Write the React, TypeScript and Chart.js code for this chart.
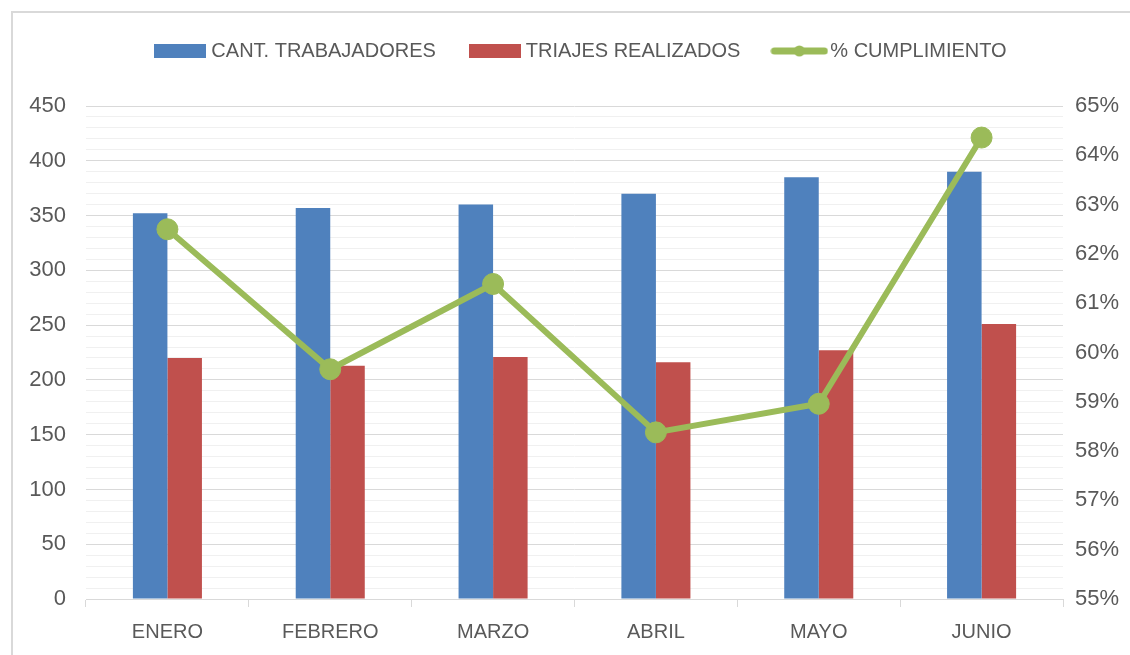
import React, { useEffect, useRef } from 'react';
import { Chart, registerables } from 'chart.js';

Chart.register(...registerables);

const categories = ['ENERO', 'FEBRERO', 'MARZO', 'ABRIL', 'MAYO', 'JUNIO'];
const trabajadores = [352, 357, 360, 370, 385, 390];
const triajes = [220, 213, 221, 216, 227, 251];
const cumplimiento = [62.5, 59.66, 61.39, 58.38, 58.96, 64.36];
const seriesNames = ['CANT. TRABAJADORES', 'TRIAJES REALIZADOS', '% CUMPLIMIENTO'];

const BLUE = '#4f81bd';
const RED = '#c0504d';
const GREEN = '#9bbb59';
const TEXT = '#595959';
const FONT = "'Liberation Sans', Arial, sans-serif";

function boxImg(color: string) {
  const c = document.createElement('canvas');
  c.width = 52;
  c.height = 14;
  const g = c.getContext('2d')!;
  g.fillStyle = color;
  g.fillRect(0, 0, 52, 14);
  return c;
}

function lineImg(color: string) {
  const c = document.createElement('canvas');
  c.width = 58;
  c.height = 22;
  const g = c.getContext('2d')!;
  g.strokeStyle = color;
  g.lineWidth = 7;
  g.lineCap = 'round';
  g.beginPath();
  g.moveTo(4, 11);
  g.lineTo(54, 11);
  g.stroke();
  g.fillStyle = color;
  g.beginPath();
  g.arc(29, 11, 5.5, 0, Math.PI * 2);
  g.fill();
  return c;
}

const legendMargin = {
  id: 'legendMargin',
  beforeInit(chart: any) {
    const legend = chart.legend;
    if (!legend) return;
    const origFit = legend.fit;
    legend.fit = function () {
      origFit.call(legend);
      this.height += 35;
    };
    const origDraw = legend.draw;
    legend.draw = function (...args: any[]) {
      const l = this.left;
      this.left = l + 26;
      origDraw.apply(this, args);
      this.left = l;
    };
  },
};

export default function App() {
  const ref = useRef<HTMLCanvasElement | null>(null);

  useEffect(() => {
    if (!ref.current) return;
    const imgs = [boxImg(BLUE), boxImg(RED), lineImg(GREEN)];
    const chart = new Chart(ref.current, {
      type: 'bar',
      data: {
        labels: categories,
        datasets: [
          {
            type: 'line',
            label: seriesNames[2],
            data: cumplimiento,
            yAxisID: 'y1',
            borderColor: GREEN,
            backgroundColor: GREEN,
            borderWidth: 6,
            borderJoinStyle: 'round',
            borderCapStyle: 'round',
            pointRadius: 10.5,
            pointBorderWidth: 1,
            pointBackgroundColor: GREEN,
            pointBorderColor: GREEN,
            tension: 0,
          } as any,
          {
            type: 'bar',
            label: seriesNames[0],
            data: trabajadores,
            yAxisID: 'y',
            backgroundColor: BLUE,
            borderWidth: 0,
            categoryPercentage: 0.424,
            barPercentage: 1,
          },
          {
            type: 'bar',
            label: seriesNames[1],
            data: triajes,
            yAxisID: 'y',
            backgroundColor: RED,
            borderWidth: 0,
            categoryPercentage: 0.424,
            barPercentage: 1,
          },
        ],
      },
      options: {
        animation: false,
        responsive: false,
        maintainAspectRatio: false,
        layout: { padding: { left: 10, right: 0, top: 3, bottom: 0 } },
        plugins: {
          tooltip: { enabled: false },
          legend: {
            position: 'top',
            labels: {
              font: { family: FONT, size: 20 },
              color: TEXT,
              usePointStyle: true,
              pointStyleWidth: 42,
              boxHeight: 14,
              padding: 38,
              generateLabels: () => [
                { text: seriesNames[0], pointStyle: imgs[0], fillStyle: BLUE, strokeStyle: BLUE, lineWidth: 0, hidden: false, datasetIndex: 1, fontColor: TEXT },
                { text: seriesNames[1], pointStyle: imgs[1], fillStyle: RED, strokeStyle: RED, lineWidth: 0, hidden: false, datasetIndex: 2, fontColor: TEXT },
                { text: seriesNames[2], pointStyle: imgs[2], fillStyle: GREEN, strokeStyle: GREEN, lineWidth: 0, hidden: false, datasetIndex: 0, fontColor: TEXT },
              ] as any,
            },
          },
        },
        scales: {
          x: {
            grid: {
              offset: true,
              drawOnChartArea: false,
              drawTicks: true,
              tickLength: 8,
              color: '#d9d9d9',
            },
            border: { display: true, color: '#d9d9d9', width: 1 },
            ticks: { font: { family: FONT, size: 20 }, color: TEXT, padding: 13, maxRotation: 0 },
            afterFit: (s: any) => {
              s.height = 56;
            },
          },
          y: {
            position: 'left',
            min: 0,
            max: 450,
            grid: {
              drawTicks: false,
              color: (ctx: any) => (ctx.tick && ctx.tick.value % 50 === 0 ? '#d9d9d9' : '#f0f0f0'),
              lineWidth: 1,
            },
            border: { display: false },
            ticks: {
              stepSize: 10,
              autoSkip: false,
              font: { family: FONT, size: 22 },
              color: TEXT,
              padding: 20,
              callback: (v: any) => (Number(v) % 50 === 0 ? String(v) : ''),
            },
            afterFit: (s: any) => {
              s.width = 76;
            },
          },
          y1: {
            position: 'right',
            min: 55,
            max: 65,
            grid: { drawOnChartArea: false, drawTicks: false },
            border: { display: false },
            ticks: {
              stepSize: 1,
              font: { family: FONT, size: 22 },
              color: TEXT,
              padding: 12,
              callback: (v: any) => `${v}%`,
            },
            afterFit: (s: any) => {
              s.width = 67;
            },
          },
        },
      },
      plugins: [legendMargin],
    });
    return () => chart.destroy();
  }, []);

  return (
    <div style={{ position: 'fixed', left: 0, top: 0, width: 1130, height: 655, background: '#fff' }}>
      <div
        style={{
          position: 'absolute',
          left: 11,
          top: 11,
          right: 0,
          bottom: 0,
          borderTop: '2px solid #d9d9d9',
          borderLeft: '2px solid #d9d9d9',
        }}
      />
      <canvas ref={ref} width={1130} height={655} style={{ position: 'absolute', left: 0, top: 0 }} />
    </div>
  );
}
